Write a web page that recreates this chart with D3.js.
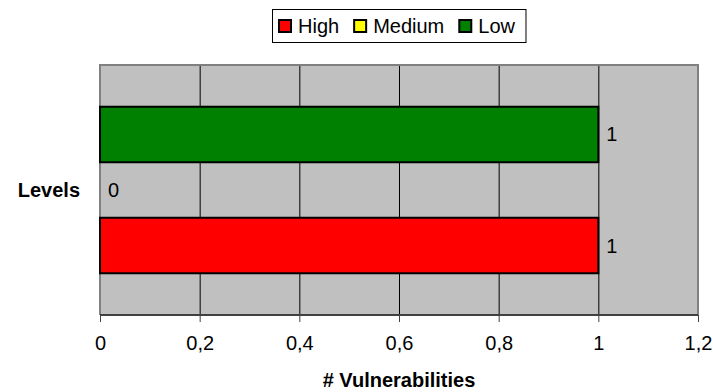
<!DOCTYPE html>
<html>
<head>
<meta charset="utf-8">
<script src="https://cdn.jsdelivr.net/npm/d3@7"></script>
<style>
  html, body { margin: 0; padding: 0; background: #fff; }
  svg { display: block; font-family: "Liberation Sans", Arial, sans-serif; }
</style>
</head>
<body>
<svg id="chart" width="713" height="392"></svg>
<script>
// chart data
var categories   = ['Levels'];
var series_names = ['High', 'Medium', 'Low'];
var series_vals  = [1, 0, 1];
var series_cols  = ['#ff0000', '#ffff00', '#008000'];
var x_ticks      = [0, 0.2, 0.4, 0.6, 0.8, 1, 1.2];
var x_title      = '# Vulnerabilities';

var svg = d3.select('#chart');

var m = { left: 100, top: 65, right: 15, bottom: 77 };
var width  = 713 - m.left - m.right;
var height = 392 - m.top - m.bottom;

var comma = (d) => String(d).replace('.', ',');

var x = d3.scaleLinear()
  .domain([0, 1.2])
  .range([0, width]);

var y = d3.scaleBand()
  .domain(categories)
  .range([0, height]);

// excel draws the series bottom-up
var y_inner = d3.scaleBand()
  .domain(series_names.slice().reverse())
  .range([0, y.bandwidth()])
  .paddingInner(0)
  .paddingOuter(0.752);

var gph = svg.append('g')
  .attr('transform', `translate(${ m.left }, ${ m.top })`);

gph.append('rect')
  .attr('width', width)
  .attr('height', height)
  .attr('fill', '#c0c0c0');

// grid
gph.append('g')
  .attr('class', 'grid')
  .call(d3.axisBottom(x).tickValues(x_ticks.slice(1)).tickSize(height).tickFormat(''))
  .call((g) => g.select('.domain').remove())
  .call((g) => g.selectAll('line').attr('stroke', '#000').attr('stroke-width', 1));

// plot border top / left / right
gph.append('path')
  .attr('d', `M0,${ height }V0H${ width }V${ height }`)
  .attr('fill', 'none')
  .attr('stroke', '#808080')
  .attr('stroke-width', 2);

var data = [];
categories.forEach((c) => {
  series_names.forEach((s, i) => {
    data.push({ cat: c, name: s, value: series_vals[i], color: series_cols[i] });
  });
});

var bars = gph.selectAll('g.bar')
  .data(data)
  .enter()
  .append('g')
  .attr('class', 'bar')
  .attr('transform', (d) => `translate(0, ${ y(d.cat) + y_inner(d.name) })`);

bars.filter((d) => d.value > 0)
  .append('rect')
  .attr('x', x(0))
  .attr('y', 0)
  .attr('width', (d) => x(d.value) - x(0))
  .attr('height', y_inner.bandwidth())
  .attr('fill', (d) => d.color)
  .attr('stroke', '#000')
  .attr('stroke-width', 2);

bars.append('text')
  .attr('x', (d) => x(d.value) + 8)
  .attr('y', y_inner.bandwidth() / 2)
  .attr('dy', '0.35em')
  .attr('font-size', 20)
  .attr('fill', '#000')
  .text((d) => d.value);

// x axis
var x_axis = gph.append('g')
  .attr('transform', `translate(0, ${ height })`)
  .call(d3.axisBottom(x).tickValues(x_ticks).tickSize(7).tickPadding(14).tickFormat(comma));

x_axis.select('.domain')
  .attr('stroke', '#404040')
  .attr('stroke-width', 2)
  .attr('d', `M0,0H${ width }`);

x_axis.selectAll('.tick line').attr('stroke', '#404040').attr('stroke-width', 1);
x_axis.selectAll('.tick text')
  .attr('font-size', 20)
  .attr('font-family', '"Liberation Sans", Arial, sans-serif')
  .attr('fill', '#000');

// axis titles
svg.append('text')
  .attr('x', m.left + width / 2)
  .attr('y', 387)
  .attr('text-anchor', 'middle')
  .attr('font-size', 20)
  .attr('font-weight', 'bold')
  .text(x_title);

svg.append('text')
  .attr('x', 80)
  .attr('y', m.top + y(categories[0]) + y.bandwidth() / 2)
  .attr('dy', '0.35em')
  .attr('text-anchor', 'end')
  .attr('font-size', 20)
  .attr('font-weight', 'bold')
  .text(categories[0]);

// legend
var lg = svg.append('g').attr('class', 'legend');

var box = lg.append('rect')
  .attr('fill', '#fff')
  .attr('stroke', '#000')
  .attr('stroke-width', 1);

var lx = 279;
series_names.forEach((s, i) => {
  lg.append('rect')
    .attr('x', lx)
    .attr('y', 20)
    .attr('width', 12)
    .attr('height', 12)
    .attr('fill', series_cols[i])
    .attr('stroke', '#000')
    .attr('stroke-width', 2);
  var t = lg.append('text')
    .attr('x', lx + 19)
    .attr('y', 26)
    .attr('dy', '0.35em')
    .attr('font-size', 20)
    .text(s);
  lx += 19 + t.node().getComputedTextLength() + 15;
});

box.attr('x', 272.5)
  .attr('y', 9.5)
  .attr('width', lx - 15 + 11 - 272.5)
  .attr('height', 33);
</script>
</body>
</html>
